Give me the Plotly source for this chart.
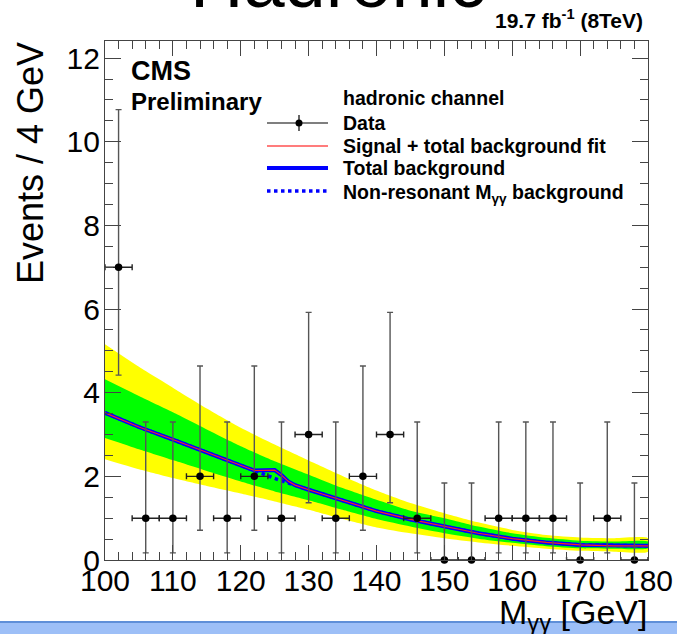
import plotly.graph_objects as go

# ---------------- data ----------------
mass_bins = [102, 106, 110, 114, 118, 122, 126, 130, 134, 138,
             142, 146, 150, 154, 158, 162, 166, 170, 174, 178]
counts = [7, 1, 1, 2, 1, 2, 1, 3, 1, 2,
          3, 1, 0, 0, 1, 1, 1, 0, 1, 0]
err_up = [3.77, 2.30, 2.30, 2.64, 2.30, 2.64, 2.30, 2.92, 2.30, 2.64,
          2.92, 2.30, 1.84, 1.84, 2.30, 2.30, 2.30, 1.84, 2.30, 1.84]
err_dn = [2.58, 0.83, 0.83, 1.29, 0.83, 1.29, 0.83, 1.63, 0.83, 1.29,
          1.63, 0.83, 0.00, 0.00, 0.83, 0.83, 0.83, 0.00, 0.83, 0.00]
bin_half = [2] * 20

grid_mass = [100, 105, 110, 115, 120, 125, 130, 135, 140, 145, 150, 155, 160, 165, 170, 175, 180]
bkg_nonres = [3.52, 3.18, 2.88, 2.57, 2.26, 1.95, 1.68, 1.42, 1.17, 0.97, 0.80, 0.64, 0.51, 0.42, 0.36, 0.34, 0.34]
band1_hi = [4.32, 3.92, 3.53, 3.12, 2.72, 2.36, 2.04, 1.72, 1.44, 1.18, 1.00, 0.80, 0.64, 0.53, 0.46, 0.44, 0.44]
band1_lo = [2.92, 2.65, 2.39, 2.13, 1.88, 1.64, 1.43, 1.20, 0.98, 0.80, 0.64, 0.51, 0.41, 0.33, 0.28, 0.27, 0.28]
band2_hi = [5.16, 4.62, 4.12, 3.62, 3.16, 2.76, 2.38, 2.01, 1.66, 1.36, 1.12, 0.90, 0.72, 0.60, 0.54, 0.52, 0.52]
band2_lo = [2.41, 2.17, 1.96, 1.77, 1.59, 1.40, 1.20, 0.98, 0.78, 0.64, 0.52, 0.42, 0.34, 0.27, 0.22, 0.20, 0.20]

total_mass = [100, 105, 110, 115, 120, 122, 125, 126, 127, 128, 130, 135, 140, 145, 150, 155, 160, 165, 170, 175, 180]
total_bkg = [3.52, 3.18, 2.88, 2.57, 2.26, 2.14, 2.15, 2.03, 1.88, 1.79, 1.68, 1.42, 1.17, 0.97, 0.80, 0.64, 0.51, 0.42, 0.36, 0.34, 0.34]
sig_plus_bkg = [3.52, 3.18, 2.88, 2.57, 2.26, 2.14, 2.15, 2.03, 1.88, 1.79, 1.68, 1.42, 1.17, 0.97, 0.80, 0.64, 0.51, 0.42, 0.36, 0.34, 0.34]

x_ticks = [100, 110, 120, 130, 140, 150, 160, 170, 180]
y_ticks = [0, 2, 4, 6, 8, 10, 12]

# ---------------- geometry helpers (pixels -> paper) ----------------
W, H = 677, 634
L, R, T, B = 105, 29, 41, 74
PW, PH = W - L - R, H - T - B


def PX(x):
    return (x - L) / PW


def PY(y):
    return (H - B - y) / PH


FONT = "Liberation Sans, Arial, Helvetica, sans-serif"

fig = go.Figure()

# 2 sigma band
fig.add_trace(go.Scatter(
    x=grid_mass + grid_mass[::-1], y=band2_hi + band2_lo[::-1],
    fill="toself", fillcolor="#ffff00", line=dict(width=0, shape="spline", smoothing=0.6),
    mode="lines", hoverinfo="skip", showlegend=False))
# 1 sigma band
fig.add_trace(go.Scatter(
    x=grid_mass + grid_mass[::-1], y=band1_hi + band1_lo[::-1],
    fill="toself", fillcolor="#00ff00", line=dict(width=0, shape="spline", smoothing=0.6),
    mode="lines", hoverinfo="skip", showlegend=False))
# non-resonant background
fig.add_trace(go.Scatter(
    x=grid_mass, y=bkg_nonres, mode="lines",
    line=dict(color="#0000ff", width=3.5, dash="dot"), showlegend=False))
# total background
fig.add_trace(go.Scatter(
    x=total_mass, y=total_bkg, mode="lines",
    line=dict(color="#0000ff", width=4), showlegend=False))
# signal + total background fit
fig.add_trace(go.Scatter(
    x=total_mass, y=sig_plus_bkg, mode="lines",
    line=dict(color="#ff2020", width=1.2), showlegend=False))
# data
fig.add_trace(go.Scatter(
    x=mass_bins, y=counts, mode="markers",
    marker=dict(color="black", size=7.5),
    error_y=dict(type="data", array=err_up, arrayminus=err_dn, symmetric=False,
                 color="#555555", thickness=1.4, width=3),
    error_x=dict(type="data", array=bin_half, color="#222222", thickness=1.4, width=3),
    cliponaxis=False, showlegend=False))

axis_common = dict(
    showgrid=False, zeroline=False, showline=True, linecolor="#444444", linewidth=1.3,
    mirror="ticks", ticks="inside", tickcolor="#444444", tickwidth=1,
    automargin=False,
    tickfont=dict(family=FONT, size=30, color="black"),
)

fig.update_xaxes(range=[100, 180], tickvals=x_ticks, ticklen=15,
                 minor=dict(dtick=2, tick0=100, ticklen=8, ticks="inside", tickcolor="#444444", showgrid=False),
                 ticklabelstandoff=-6, **axis_common)
fig.update_yaxes(range=[0, 12.41], tickvals=y_ticks, ticklen=16,
                 minor=dict(dtick=0.5, tick0=0, ticklen=8, ticks="inside", tickcolor="#444444", showgrid=False),
                 ticklabelstandoff=-2, **axis_common)

shapes = []
# slide footer bar
shapes.append(dict(type="rect", xref="paper", yref="paper",
                   x0=PX(-5), x1=PX(W + 5), y0=PY(H + 5), y1=PY(622),
                   fillcolor="#9dbff7", line=dict(width=0), layer="below"))
shapes.append(dict(type="line", xref="paper", yref="paper",
                   x0=PX(-5), x1=PX(W + 5), y0=PY(622), y1=PY(622),
                   line=dict(color="#5f8fd8", width=2)))

# legend samples
lx0, lx1 = 267, 328
y_hdr, y_data, y_sig, y_tot, y_non = 98, 123, 146, 168, 191
shapes.append(dict(type="line", xref="paper", yref="paper", x0=PX(lx0), x1=PX(lx1),
                   y0=PY(y_data), y1=PY(y_data), line=dict(color="black", width=1.2)))
shapes.append(dict(type="line", xref="paper", yref="paper", x0=PX(299), x1=PX(299),
                   y0=PY(y_data - 8), y1=PY(y_data + 8), line=dict(color="black", width=1.2)))
shapes.append(dict(type="circle", xref="paper", yref="paper", x0=PX(295.5), x1=PX(302.5),
                   y0=PY(y_data + 3.5), y1=PY(y_data - 3.5), fillcolor="black", line=dict(width=0)))
shapes.append(dict(type="line", xref="paper", yref="paper", x0=PX(lx0), x1=PX(lx1),
                   y0=PY(y_sig), y1=PY(y_sig), line=dict(color="#ff5050", width=1.3)))
shapes.append(dict(type="line", xref="paper", yref="paper", x0=PX(lx0), x1=PX(lx1),
                   y0=PY(y_tot), y1=PY(y_tot), line=dict(color="#0000ff", width=4)))
shapes.append(dict(type="line", xref="paper", yref="paper", x0=PX(lx0), x1=PX(lx1),
                   y0=PY(y_non), y1=PY(y_non), line=dict(color="#0000ff", width=3.5, dash="dot")))

annotations = []


def txt(text, x, y, size, bold=False, xanchor="left", yanchor="middle", angle=0):
    if bold:
        text = "<b>" + text + "</b>"
    annotations.append(dict(text=text, x=PX(x), y=PY(y), xref="paper", yref="paper",
                            xanchor=xanchor, yanchor=yanchor, showarrow=False,
                            textangle=angle,
                            font=dict(family=FONT, size=size, color="black")))


LF = 19.5
txt("hadronic channel", 341, y_hdr, LF, bold=True)
txt("Data", 341, y_data, LF, bold=True)
txt("Signal + total background fit", 341, y_sig, LF, bold=True)
txt("Total background", 341, y_tot, LF, bold=True)
txt("Non-resonant M<sub>γγ</sub> background", 341, y_non + 2, LF, bold=True)

txt("CMS", 129, 71, 27, bold=True)
txt("Preliminary", 129, 102, 24, bold=True)
txt("19.7 fb<sup>-1</sup> (8TeV)", 645, 19, 21, bold=True, xanchor="right")

# cut-off slide title
txt("Hadronic", 338, 8 + 0.22 * 74 + 1, 74, xanchor="center", yanchor="bottom")

# axis titles
txt("Events / 4 GeV", 30, 40, 36, xanchor="center", yanchor="top", angle=-90)
txt("M<sub>γγ</sub> [GeV]", 650, 623 - 0.905 * 34 - 1, 34, xanchor="right", yanchor="top")

fig.update_layout(
    width=W, height=H, margin=dict(l=L, r=R, t=T, b=B),
    plot_bgcolor="white", paper_bgcolor="white",
    showlegend=False, shapes=shapes, annotations=annotations,
)

fig.write_html("out.html", config={"displayModeBar": False},
               post_script="document.body.style.margin='0px';document.body.style.overflow='hidden';")
